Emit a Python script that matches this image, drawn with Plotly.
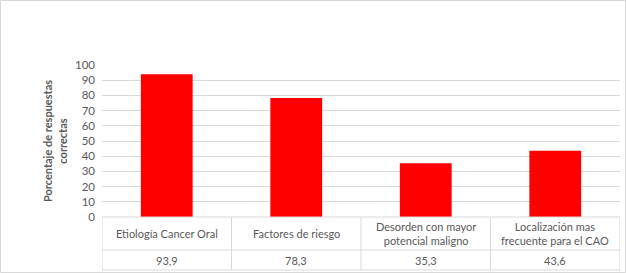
import plotly.graph_objects as go

categories = ["Etiología Cancer Oral", "Factores de riesgo", "Desorden con mayor<br>potencial maligno", "Localización mas<br>frecuente para el CAO"]
values = [93.9, 78.3, 35.3, 43.6]
value_labels = ["93,9", "78,3", "35,3", "43,6"]
y_ticks = list(range(0, 101, 10))

W, H = 626, 273
ML, MR, MT, MB = 102, 6, 65, 56
PW, PH = W - ML - MR, H - MT - MB

def px_x(p):
    return (p - ML) / PW

def px_y(p):
    return (H - MB - p) / PH

grey = "#595959"
line_c = "#d9d9d9"
font = "Lato"

x_idx = list(range(len(categories)))
fig = go.Figure(go.Bar(x=x_idx, y=values, marker=dict(color="#ff0000", line=dict(width=0)), hoverinfo="skip"))

shapes = []
for yy in [217, 250, 270]:
    shapes.append(dict(type="line", xref="paper", yref="paper", x0=0, x1=1, y0=px_y(yy), y1=px_y(yy), line=dict(color=line_c, width=1)))
for i in range(len(categories) + 1):
    shapes.append(dict(type="line", xref="x", yref="paper", x0=i - 0.5, x1=i - 0.5, y0=px_y(217), y1=px_y(270), line=dict(color=line_c, width=1)))
shapes.append(dict(type="rect", xref="paper", yref="paper", x0=px_x(0.5), x1=px_x(W - 0.5), y0=px_y(0.5), y1=px_y(H - 0.5), line=dict(color=line_c, width=1)))

annotations = []
for i, (c, v) in enumerate(zip(categories, value_labels)):
    annotations.append(dict(x=i, y=px_y(233.5), xref="x", yref="paper", text=c, showarrow=False, font=dict(family=font, size=11, color=grey), yanchor="middle"))
    annotations.append(dict(x=i, y=px_y(260), xref="x", yref="paper", text=v, showarrow=False, font=dict(family=font, size=11, color=grey), yanchor="middle"))

fig.update_layout(
    width=W, height=H,
    margin=dict(l=ML, r=MR, t=MT, b=MB),
    paper_bgcolor="white", plot_bgcolor="white",
    bargap=0.6,
    showlegend=False,
    shapes=shapes,
    annotations=annotations,
    xaxis=dict(range=[-0.5, len(categories) - 0.5], showticklabels=False, showgrid=False, zeroline=False, fixedrange=True),
    yaxis=dict(range=[0, 100], tickvals=y_ticks, showgrid=True, gridcolor=line_c, gridwidth=1, zeroline=False, fixedrange=True,
               tickfont=dict(family=font, size=11.5, color=grey), ticklabelstandoff=6,
               title=dict(text="<b>Porcentaje de respuestas<br>correctas</b>", font=dict(family=font, size=11, color=grey), standoff=5)),
    font=dict(family=font, color=grey),
)

fig.write_html("out.html", config={"displayModeBar": False},
               post_script="document.body.style.margin='0';document.body.style.overflow='hidden';")
